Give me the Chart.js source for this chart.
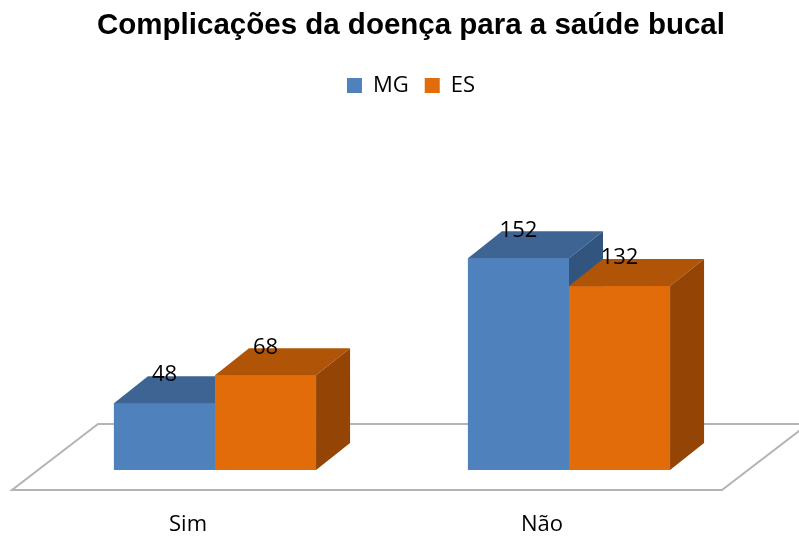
<!DOCTYPE html>
<html>
<head>
<meta charset="utf-8">
<script src="https://cdn.jsdelivr.net/npm/chart.js@4"></script>
<style>
  html, body { margin: 0; padding: 0; background: #fff; }
  #wrap { width: 799px; height: 539px; }
</style>
</head>
<body>
<div id="wrap"><canvas id="chart"></canvas></div>
<script>
const categories = ['Sim', 'Não'];
const mgValues = [48, 152];
const esValues = [68, 132];
const seriesNames = ['MG', 'ES'];

// colours for front / top / side faces
const faces = [
    { front: '#4f81bd', top: '#3d6492', side: '#325580' },
    { front: '#e36c0a', top: '#b05407', side: '#944506' }
];
const depthX = 34, depthY = 27;
const textFont = '"Open Sans", "Liberation Sans", sans-serif';

// floor plane, drawn under the bars
const floorPlugin = {
    id: 'floor',
    beforeDatasetsDraw(chart) {
        const ctx = chart.ctx;
        const a = chart.chartArea;
        const y0 = chart.scales.y.getPixelForValue(0);
        ctx.save();
        ctx.strokeStyle = '#b4b4b4';
        ctx.lineWidth = 2;
        ctx.beginPath();
        ctx.moveTo(a.left - 26, y0 + 20);
        ctx.lineTo(a.right - 24, y0 + 20);
        ctx.lineTo(a.right + 62, y0 - 46);
        ctx.lineTo(a.left + 60, y0 - 46);
        ctx.closePath();
        ctx.stroke();
        ctx.restore();
    }
};

// redraw each box with top and side faces, first series first
const boxPlugin = {
    id: 'box3d',
    afterDatasetsDraw(chart) {
        const ctx = chart.ctx;
        ctx.save();
        chart.data.datasets.forEach((ds, i) => {
            const f = faces[i];
            chart.getDatasetMeta(i).data.forEach(bar => {
                const l = bar.x - bar.width / 2, r = bar.x + bar.width / 2;
                const t = bar.y, b = bar.base;
                ctx.fillStyle = f.front;
                ctx.fillRect(l, t, r - l, b - t);
                ctx.fillStyle = f.top;
                ctx.beginPath();
                ctx.moveTo(l, t);
                ctx.lineTo(l + depthX, t - depthY);
                ctx.lineTo(r + depthX, t - depthY);
                ctx.lineTo(r, t);
                ctx.closePath();
                ctx.fill();
                ctx.fillStyle = f.side;
                ctx.beginPath();
                ctx.moveTo(r, t);
                ctx.lineTo(r + depthX, t - depthY);
                ctx.lineTo(r + depthX, b - depthY);
                ctx.lineTo(r, b);
                ctx.closePath();
                ctx.fill();
            });
        });
        // value labels
        ctx.fillStyle = '#000';
        ctx.font = '22px ' + textFont;
        ctx.textAlign = 'center';
        ctx.textBaseline = 'middle';
        chart.data.datasets.forEach((ds, i) => {
            chart.getDatasetMeta(i).data.forEach((bar, j) => {
                ctx.fillText(ds.data[j], bar.x, bar.y - 28);
            });
        });
        ctx.restore();
    }
};

const hiddenAxis = (pos, w) => ({
    position: pos,
    display: true,
    min: 0,
    max: 261,
    grid: { display: false },
    border: { display: false },
    ticks: { display: false },
    afterFit(s) { s.width = w; }
});

new Chart(document.getElementById('chart'), {
    type: 'bar',
    data: {
        labels: categories,
        datasets: [
            { label: seriesNames[0], data: mgValues, backgroundColor: faces[0].front },
            { label: seriesNames[1], data: esValues, backgroundColor: faces[1].front }
        ]
    },
    options: {
        responsive: true,
        maintainAspectRatio: false,
        animation: false,
        layout: { padding: { left: 23, right: 0, top: 3, bottom: 0 } },
        datasets: { bar: { categoryPercentage: 0.571, barPercentage: 1.0 } },
        scales: {
            x: {
                grid: { display: false },
                border: { display: false },
                ticks: {
                    color: '#000',
                    font: { size: 22, family: textFont },
                    padding: 34,
                    labelOffset: -27
                },
                afterFit(s) { s.height = 69; }
            },
            y: hiddenAxis('left', 15),
            y2: hiddenAxis('right', 53)
        },
        plugins: {
            title: {
                display: true,
                text: 'Complicações da doença para a saúde bucal',
                color: '#000',
                font: { size: 29.5, weight: 'bold', family: '"Liberation Sans", Arial, sans-serif' },
                padding: { top: 5, bottom: 15 }
            },
            legend: {
                labels: {
                    color: '#000',
                    boxWidth: 15,
                    boxHeight: 15,
                    padding: 16,
                    font: { size: 22, family: textFont }
                }
            },
            tooltip: { enabled: false }
        }
    },
    plugins: [floorPlugin, boxPlugin]
});
</script>
</body>
</html>
